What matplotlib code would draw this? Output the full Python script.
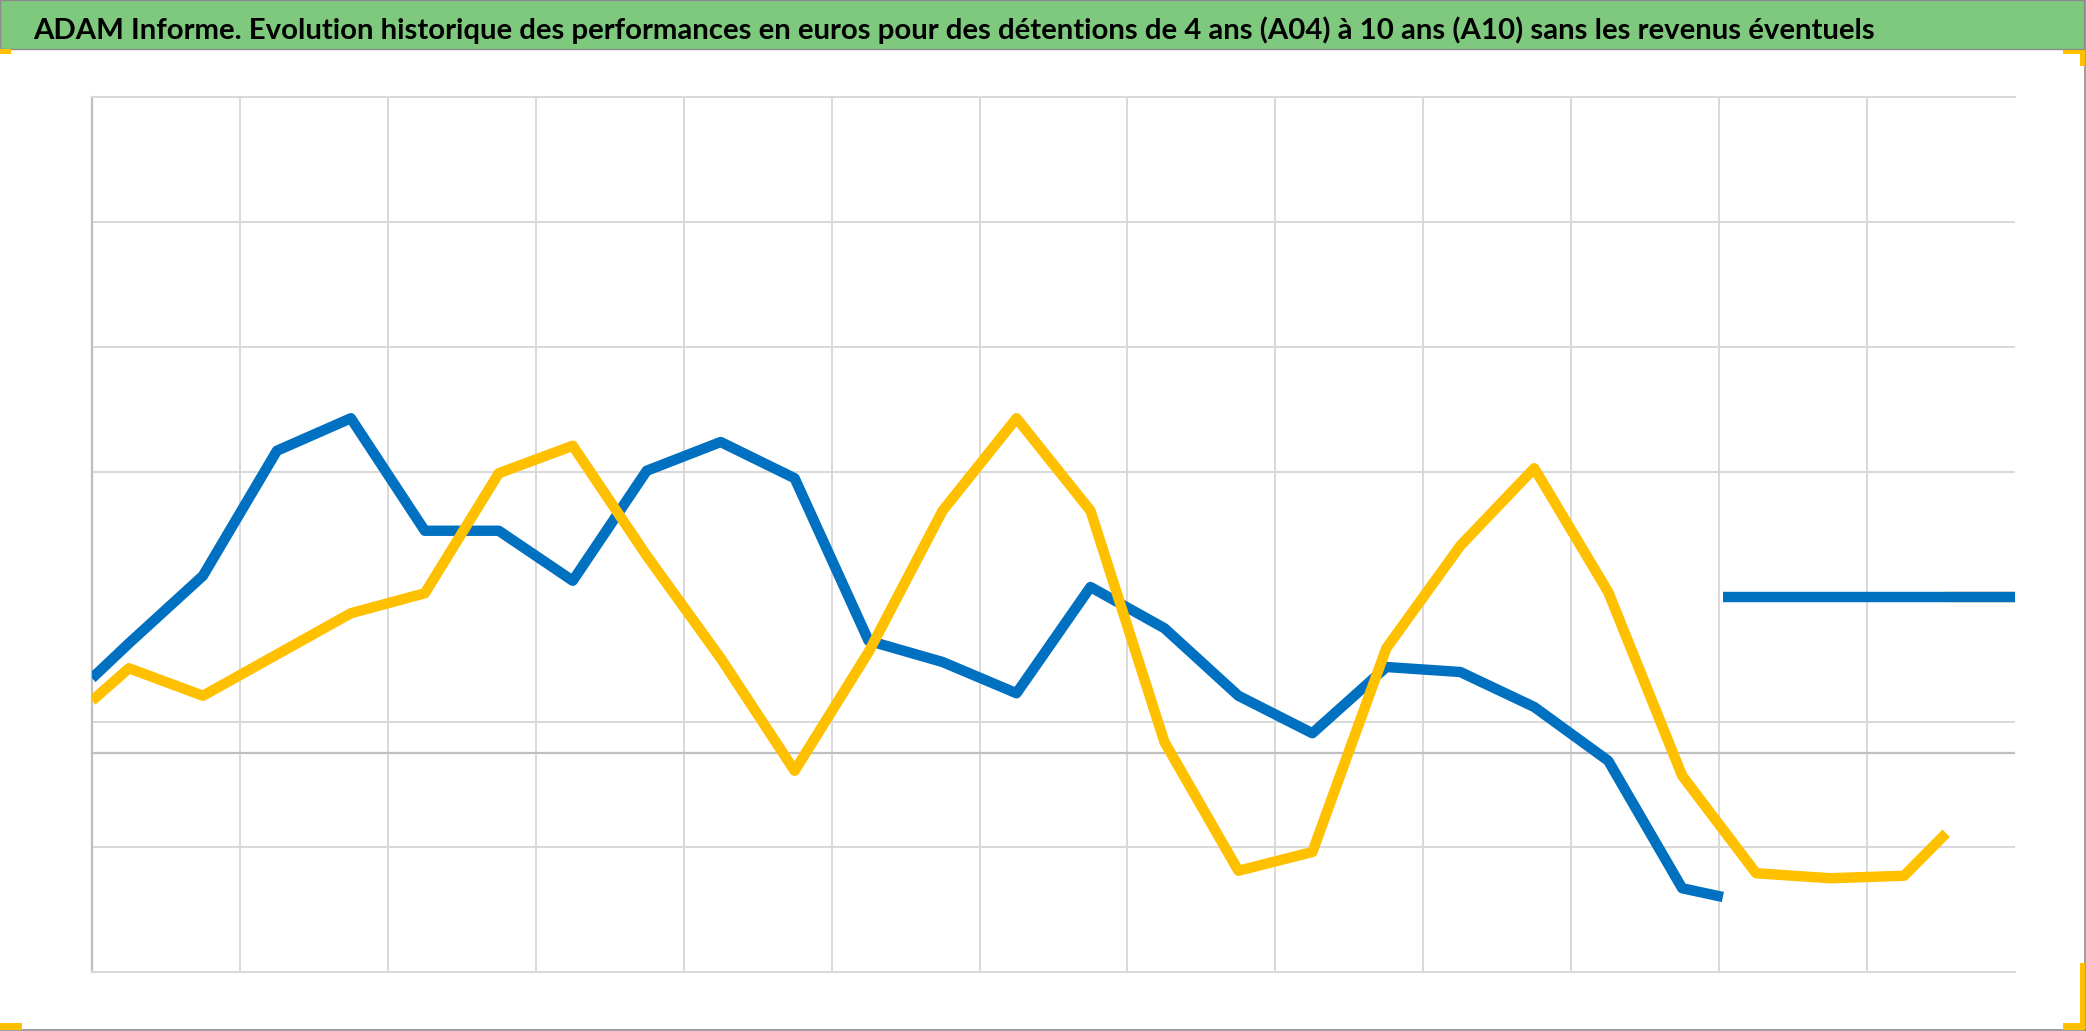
import matplotlib
matplotlib.use('Agg')
import matplotlib.pyplot as plt
from matplotlib.patches import Rectangle
from matplotlib.lines import Line2D
import numpy as np

title = ("ADAM Informe. Evolution historique des performances en euros pour des "
         "détentions de 4 ans (A04) à 10 ans (A10) sans les revenus éventuels")

# x in half-period steps (vertical gridline every 2 steps)
blue_x = [0, 0.5, 1.5, 2.5, 3.5, 4.5, 5.5, 6.5, 7.5, 8.5, 9.5, 10.5, 11.5, 12.5,
          13.5, 14.5, 15.5, 16.5, 17.5, 18.5, 19.5, 20.5, 21.5, 22.05]
blue_y = [0.60, 0.88, 1.42, 2.42, 2.68, 1.78, 1.78, 1.38, 2.26, 2.49, 2.20, 0.90,
          0.73, 0.48, 1.33, 1.00, 0.46, 0.16, 0.69, 0.65, 0.37, -0.06, -1.08, -1.15]
blue_flat_x = [22.05, 26.0]
blue_flat_y = [1.25, 1.25]

yellow_x = [0, 0.5, 1.5, 2.5, 3.5, 4.5, 5.5, 6.5, 7.5, 8.5, 9.5, 10.5, 11.5, 12.5,
            13.5, 14.5, 15.5, 16.5, 17.5, 18.5, 19.5, 20.5, 21.5, 22.5, 23.5, 24.5, 25.07]
yellow_y = [0.42, 0.68, 0.46, 0.79, 1.12, 1.28, 2.24, 2.46, 1.58, 0.76, -0.14, 0.81,
            1.94, 2.68, 1.94, 0.09, -0.94, -0.79, 0.84, 1.66, 2.28, 1.29, -0.18,
            -0.96, -1.00, -0.98, -0.64]
yellow_flat_x = [25.07, 26.0]
yellow_flat_y = [1.25, 1.25]

y_grid = [-0.75, 0.25, 2.25, 3.25, 4.25]
x_grid = np.arange(2, 26, 2)

W, H = 2086, 1031
BLUE = '#0070C0'
YELLOW = '#FFC000'
GREEN = '#7EC97E'
GRID = '#D9D9D9'
AXIS = '#BFBFBF'

fig = plt.figure(figsize=(W / 100, H / 100), dpi=100)
fig.patch.set_facecolor('white')

def fx(x):
    return x / W

def fy(y):
    return 1 - y / H

# plot area
left, right, top, bottom = 92, 2015, 97, 972
ax = fig.add_axes([fx(left), fy(bottom), (right - left) / W, (bottom - top) / H])
ax.set_xlim(0, 26)
ax.set_ylim(-1.75, 5.25)
ax.set_yticks(y_grid)
ax.set_xticks(x_grid)
ax.tick_params(length=0, labelleft=False, labelbottom=False)
ax.grid(True, color=GRID, lw=1.4, zorder=0)
ax.set_axisbelow(True)
ax.spines['right'].set_visible(False)
ax.spines['top'].set_color(GRID)
ax.spines['top'].set_linewidth(1.4)
ax.spines['bottom'].set_color(GRID)
ax.spines['bottom'].set_linewidth(1.4)
ax.spines['left'].set_color(AXIS)
ax.spines['left'].set_linewidth(1.6)
ax.axhline(0, color=AXIS, lw=1.6, zorder=1)

LW = 7.5
ax.plot(yellow_flat_x, yellow_flat_y, color=YELLOW, lw=LW, zorder=2,
        solid_capstyle='butt')
ax.plot(blue_x, blue_y, color=BLUE, lw=LW, zorder=3,
        solid_joinstyle='round', solid_capstyle='butt')
ax.plot(blue_flat_x, blue_flat_y, color=BLUE, lw=LW, zorder=3,
        solid_capstyle='butt')
ax.plot(yellow_x, yellow_y, color=YELLOW, lw=LW, zorder=4,
        solid_joinstyle='round', solid_capstyle='butt')

# title band
fig.patches.append(Rectangle((0, fy(49)), fx(2084), 49 / H, transform=fig.transFigure,
                             facecolor=GREEN, edgecolor='#8C8C8C', lw=1.0, zorder=0))
t = fig.text(fx(33), fy(39), title, ha='left', va='baseline',
             fontfamily=['Liberation Sans Narrow', 'Lato', 'DejaVu Sans'],
             fontweight='bold', fontsize=24, color='black')
fig.canvas.draw()
bb = t.get_window_extent(renderer=fig.canvas.get_renderer())
target = 1844
t.set_fontsize(24 * target / bb.width)

# outer border
fig.add_artist(Line2D([0, 1], [fy(1030), fy(1030)], transform=fig.transFigure,
                      color='#8C8C8C', lw=1.2))
fig.add_artist(Line2D([fx(2085), fx(2085)], [fy(0), fy(1031)], transform=fig.transFigure,
                      color='#8C8C8C', lw=1.2))

# yellow corner marks
def yrect(x0, y0, x1, y1):
    fig.patches.append(Rectangle((fx(x0), fy(y1)), (x1 - x0) / W, (y1 - y0) / H,
                                 transform=fig.transFigure, facecolor=YELLOW,
                                 edgecolor='none', zorder=5))

yrect(0, 49, 11, 54)
yrect(2063, 50, 2085, 54)
yrect(2080, 50, 2085, 66)
yrect(2080, 963, 2085, 1030)
yrect(2063, 1023, 2085, 1030)
yrect(0, 1023, 22, 1030)

fig.savefig('out.png', dpi=100)
